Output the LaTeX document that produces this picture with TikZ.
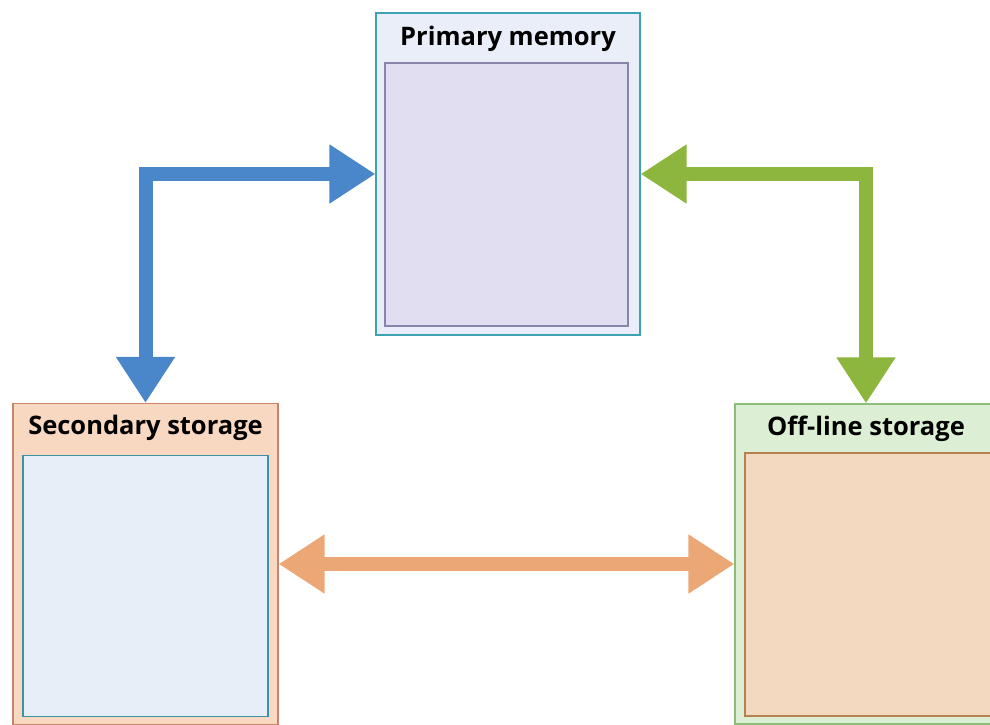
\documentclass[tikz,border=0pt]{standalone}
\usepackage{xcolor}
\usepackage{fontspec}
\setsansfont{Open Sans}
\usepackage{tikz}
\usetikzlibrary{arrows.meta,positioning,calc}
\definecolor{memblue}{RGB}{74, 135, 202}
\definecolor{memgreen}{RGB}{141, 182, 62}
\definecolor{memorange}{RGB}{236, 167, 118}
\definecolor{primfill}{RGB}{234, 238, 248}
\definecolor{primline}{RGB}{62, 162, 178}
\definecolor{priminner}{RGB}{224, 222, 240}
\definecolor{priminline}{RGB}{136, 132, 172}
\definecolor{secfill}{RGB}{249, 216, 194}
\definecolor{secline}{RGB}{200, 132, 104}
\definecolor{secinner}{RGB}{232, 238, 247}
\definecolor{secinline}{RGB}{60, 146, 164}
\definecolor{offfill}{RGB}{220, 239, 212}
\definecolor{offline}{RGB}{140, 190, 120}
\definecolor{offinner}{RGB}{244, 217, 193}
\definecolor{offinline}{RGB}{184, 128, 78}
\tikzset{
  storebox/.style={rectangle, line width=1.2pt, inner sep=0pt},
  boxtitle/.style={font=\sffamily\bfseries\fontsize{25.5}{28}\selectfont, anchor=center},
  flow/.style={line width=14pt, {Triangle[length=46pt,width=56pt]}-{Triangle[length=46pt,width=56pt]}}
}

\begin{document}
\begin{tikzpicture}[x=1pt, y=-1pt]
    \useasboundingbox (0,0) rectangle (990,725);
    % outer boxes
    \node [storebox, draw=primline, fill=primfill, minimum width=264pt, minimum height=322pt] (prim) at (508,174) {};
    \node [storebox, draw=secline, fill=secfill, minimum width=265pt, minimum height=321pt] (sec) at (145.5,564) {};
    \node [storebox, draw=offline, fill=offfill, minimum width=262pt, minimum height=320pt] (off) at (866,564) {};
    % inner boxes
    \node [storebox, draw=priminline, fill=priminner, minimum width=243pt, minimum height=263pt, anchor=south] (primin) at ($(prim.south)+(-1.5,-9)$) {};
    \node [storebox, draw=secinline, fill=secinner, minimum width=245pt, minimum height=261pt, anchor=south] (secin) at ($(sec.south)+(0,-8)$) {};
    \node [storebox, draw=offinline, fill=offinner, minimum width=262pt, minimum height=263pt, anchor=south west] (offin) at ($(off.south west)+(10,-8)$) {};
    % titles
    \node [boxtitle] (primtitle) at ($(prim.north)+(0,26)$) {Primary memory};
    \node [boxtitle] (sectitle) at ($(sec.north)+(0,25)$) {Secondary storage};
    \node [boxtitle] (offtitle) at ($(off.north)+(0,25)$) {Off-line storage};

    \draw [flow, memblue] (sec.north) |- (prim.west);
    \draw [flow, memgreen] (off.north) |- (prim.east);
    \draw [flow, memorange] (sec.east) -- (sec.east -| off.west);
\end{tikzpicture}
\end{document}
